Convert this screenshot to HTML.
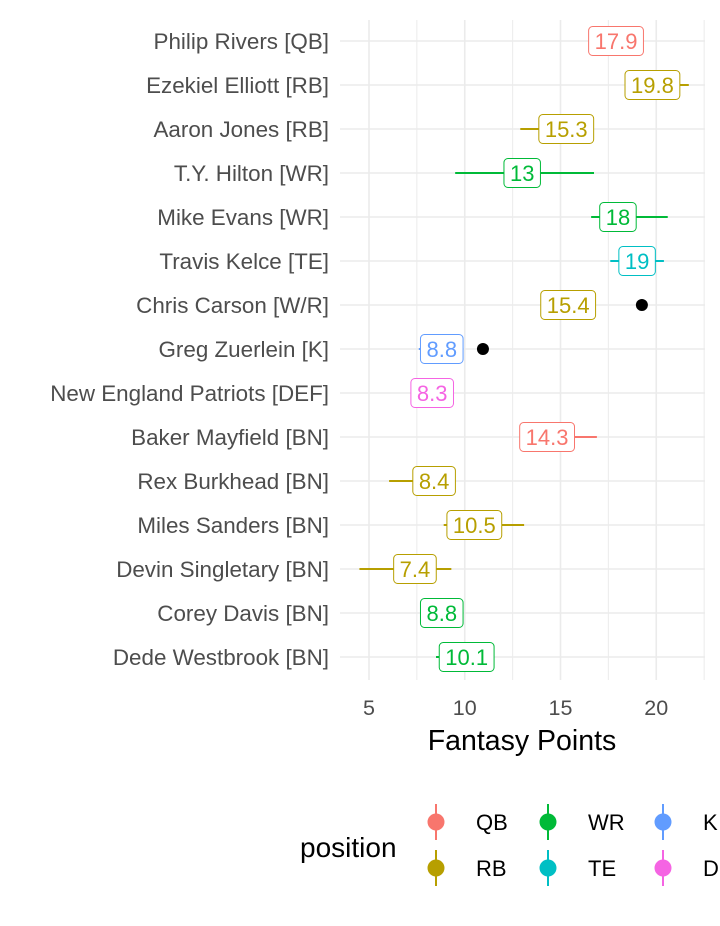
<!DOCTYPE html>
<html><head><meta charset="utf-8"><style>
body{margin:0;background:#fff;}
svg text{font-family:"Liberation Sans",Arial,sans-serif;}
</style></head><body>
<svg id="chart" width="720" height="921" viewBox="0 0 720 921" xmlns="http://www.w3.org/2000/svg">
<g id="grid"></g>
<g id="marks"></g>
<g id="ylabels"></g>
<g id="xticks"></g>
<text x="522" y="750" font-size="28.5" text-anchor="middle" fill="#000">Fantasy Points</text>
<g id="legend">
<text x="300" y="857" font-size="28" fill="#000">position</text>
</g>
</svg>
<script>
const players = ["Philip Rivers [QB]","Ezekiel Elliott [RB]","Aaron Jones [RB]","T.Y. Hilton [WR]","Mike Evans [WR]","Travis Kelce [TE]","Chris Carson [W/R]","Greg Zuerlein [K]","New England Patriots [DEF]","Baker Mayfield [BN]","Rex Burkhead [BN]","Miles Sanders [BN]","Devin Singletary [BN]","Corey Davis [BN]","Dede Westbrook [BN]"];
const positions = ["QB","RB","RB","WR","WR","TE","RB","K","DEF","QB","RB","RB","RB","WR","WR"];
const projected = [17.9,19.8,15.3,13,18,19,15.4,8.8,8.3,14.3,8.4,10.5,7.4,8.8,10.1];
const lowValues = [17.9,18.5,12.9,9.5,16.6,17.6,15.4,7.6,8.3,14.3,6.05,8.9,4.5,8.8,8.5];
const highValues = [17.9,21.7,16,16.75,20.6,20.4,15.4,8.8,8.3,16.9,8.4,13.1,9.3,8.8,10.1];
const actual = [null,null,null,null,null,null,19.25,10.95,null,null,null,null,null,null,null];
const xTicks = [5,10,15,20];
const legendPositions = ["QB","RB","WR","TE","K","DEF"];
const legendLabels = ["QB","RB","WR","TE","K","DE"];

const colors = {QB:"#F8766D",RB:"#B79F00",WR:"#00BA38",TE:"#00BFC4",K:"#619CFF",DEF:"#F564E3"};
const NS="http://www.w3.org/2000/svg";
const X0=340,X1=705,Y0=20,Y1=680;
function xs(v){return 369+(v-5)*19.15;}
function ys(i){return 41+i*44;}
function mk(tag,attrs,parent){const e=document.createElementNS(NS,tag);for(const k in attrs)e.setAttribute(k,attrs[k]);parent.appendChild(e);return e;}
const grid=document.getElementById('grid'),marks=document.getElementById('marks'),yl=document.getElementById('ylabels'),xt=document.getElementById('xticks'),lg=document.getElementById('legend');
for(let v=2.5;v<=22.5;v+=5){const x=xs(v);if(x<X0||x>X1+1)continue;const l=mk('line',{x1:x,x2:x,y1:Y0,y2:Y1,stroke:'#ebebeb','stroke-width':1},grid);

}
xTicks.forEach(v=>{const x=xs(v);const l=mk('line',{x1:x,x2:x,y1:Y0,y2:Y1,stroke:'#ebebeb','stroke-width':1.6},grid);


const t=mk('text',{x:x,y:715,'font-size':21.5,'text-anchor':'middle',fill:'#4d4d4d'},xt);t.textContent=v;

});
players.forEach((p,i)=>{const y=ys(i);
const l=mk('line',{x1:X0,x2:X1,y1:y,y2:y,stroke:'#ebebeb','stroke-width':1.6},grid);


const t=mk('text',{x:329,y:y+8,'font-size':22.4,'text-anchor':'end',fill:'#4d4d4d'},yl);t.textContent=p;


const c=colors[positions[i]];
const r=mk('line',{x1:xs(lowValues[i]),x2:xs(highValues[i]),y1:y,y2:y,stroke:c,'stroke-width':2},marks);


if(actual[i]!==null){const d=mk('circle',{cx:xs(actual[i]),cy:y,r:6,fill:'#000'},marks);

}
const g=mk('g',{},marks);


const txt=String(projected[i]);const cx=xs(projected[i]);
const rect=mk('rect',{x:cx-20,y:y-14.5,width:40,height:29,rx:4,fill:'#fff',stroke:c,'stroke-width':1},g);
const tt=mk('text',{x:cx,y:y+8,'font-size':22,'text-anchor':'middle',fill:c},g);tt.textContent=txt;
const w=tt.getComputedTextLength()+12;rect.setAttribute('x',cx-w/2);rect.setAttribute('width',w);});
const lx=[436,436,548,548,663,663],ly=[822,868,822,868,822,868];
legendPositions.forEach((p,i)=>{const g=mk('g',{},lg);


const c=colors[p];mk('line',{x1:lx[i],x2:lx[i],y1:ly[i]-18,y2:ly[i]+18,stroke:c,'stroke-width':2},g);
mk('circle',{cx:lx[i],cy:ly[i],r:8.5,fill:c},g);
const t=mk('text',{x:lx[i]+40,y:ly[i]+8,'font-size':22,fill:'#000'},g);t.textContent=legendLabels[i];});
</script>
</body></html>
